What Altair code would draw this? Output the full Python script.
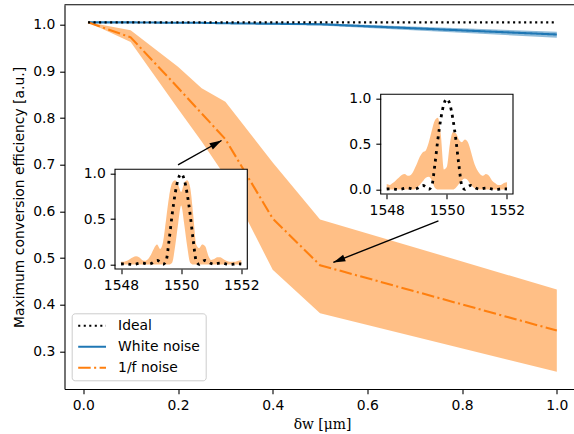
import math
import altair as alt
import pandas as pd

# ---------------- main panel data ----------------
dw = [0.01, 0.1, 0.2, 0.25, 0.3, 0.4, 0.5, 1.0]
ideal = [1.005, 1.005, 1.005, 1.005, 1.005, 1.005, 1.005, 1.005]
white_mean = [1.005, 1.005, 1.004, 1.004, 1.003, 1.002, 1.001, 0.979]
white_hi = [1.005, 1.005, 1.005, 1.005, 1.004, 1.004, 1.003, 0.985]
white_lo = [1.005, 1.004, 1.003, 1.003, 1.002, 1.000, 0.998, 0.972]
pink_mean = [1.005, 0.973, 0.865, 0.810, 0.755, 0.585, 0.485, 0.345]
pink_hi = [1.005, 0.988, 0.910, 0.864, 0.835, 0.705, 0.583, 0.433]
pink_lo = [1.005, 0.963, 0.820, 0.750, 0.675, 0.475, 0.382, 0.257]
series = ["Ideal", "White noise", "1/f noise"]
series_colors = ["black", "#1f77b4", "#ff7f0e"]

x_ticks = [0.0, 0.2, 0.4, 0.6, 0.8, 1.0]
y_ticks = [0.3, 0.4, 0.5, 0.6, 0.7, 0.8, 0.9, 1.0]

# annotation arrows (tail -> head), main data coordinates
arrow_x_tail = [0.200, 0.750]
arrow_y_tail = [0.700, 0.580]
arrow_x_head = [0.292, 0.528]
arrow_y_head = [0.752, 0.491]

# ---------------- inset data ----------------
lam = [1548.0, 1548.1, 1548.2, 1548.3, 1548.4, 1548.5, 1548.6, 1548.7, 1548.8, 1548.9,
       1549.0, 1549.1, 1549.2, 1549.3, 1549.4, 1549.5, 1549.6, 1549.7, 1549.8, 1549.9,
       1550.0, 1550.1, 1550.2, 1550.3, 1550.4, 1550.5, 1550.6, 1550.7, 1550.8, 1550.9,
       1551.0, 1551.1, 1551.2, 1551.3, 1551.4, 1551.5, 1551.6, 1551.7, 1551.8, 1551.9,
       1552.0]
spec_ideal = [0.005, 0.007, 0.006, 0.002, 0.000, 0.005, 0.012, 0.015, 0.010, 0.002,
              0.010, 0.030, 0.045, 0.030, 0.002, 0.040, 0.270, 0.550, 0.780, 0.940,
              1.000, 0.940, 0.780, 0.550, 0.270, 0.040, 0.002, 0.030, 0.045, 0.030,
              0.010, 0.002, 0.010, 0.015, 0.012, 0.005, 0.000, 0.002, 0.006, 0.007,
              0.005]
# inset 1 (dw = 0.3)
in1_hi = [0.03, 0.03, 0.04, 0.06, 0.08, 0.09, 0.08, 0.05, 0.04, 0.06,
          0.11, 0.18, 0.22, 0.17, 0.25, 0.50, 0.75, 0.90, 0.93, 0.88,
          0.80, 0.90, 0.93, 0.85, 0.55, 0.22, 0.18, 0.22, 0.20, 0.10,
          0.05, 0.06, 0.08, 0.08, 0.06, 0.04, 0.03, 0.03, 0.03, 0.04,
          0.05]
in1_lo = [0.0, 0.0, 0.0, 0.0, 0.0, 0.0, 0.0, 0.0, 0.0, 0.0,
          0.0, 0.0, 0.0, 0.0, 0.0, 0.0, 0.0, 0.02, 0.20, 0.45,
          0.65, 0.45, 0.20, 0.02, 0.0, 0.0, 0.0, 0.0, 0.0, 0.0,
          0.0, 0.0, 0.0, 0.0, 0.0, 0.0, 0.0, 0.0, 0.0, 0.0,
          0.0]
# inset 2 (dw = 0.5)
in2_hi = [0.06, 0.05, 0.07, 0.10, 0.13, 0.16, 0.17, 0.15, 0.16, 0.21,
          0.28, 0.36, 0.41, 0.43, 0.52, 0.65, 0.76, 0.79, 0.60, 0.22,
          0.25, 0.50, 0.63, 0.62, 0.55, 0.52, 0.55, 0.52, 0.42, 0.30,
          0.22, 0.17, 0.15, 0.17, 0.15, 0.10, 0.07, 0.05, 0.05, 0.07,
          0.08]
in2_lo = [0.0, 0.0, 0.0, 0.0, 0.0, 0.0, 0.0, 0.0, 0.0, 0.0,
          0.02, 0.05, 0.09, 0.13, 0.14, 0.10, 0.02, 0.0, 0.0, 0.0,
          0.0, 0.0, 0.0, 0.02, 0.06, 0.10, 0.12, 0.10, 0.05, 0.02,
          0.0, 0.0, 0.0, 0.0, 0.0, 0.0, 0.0, 0.0, 0.0, 0.0,
          0.0]
in_x_ticks = [1548, 1550, 1552]
in_y_ticks = [0.0, 0.5, 1.0]
in_x_dom = [1547.8, 1552.2]
in_y_dom = [-0.05, 1.05]

# ---------------- layout / style ----------------
W, H = 509.5, 384.3
PAD = {"left": 64.5, "top": 4.7, "right": 0, "bottom": 45}
XDOM = [-0.0397, 1.0363]
YDOM = [0.2199, 1.0428]
FONT = "DejaVu Sans"
FS = 13.9
LW = 2.08
INSET1 = {"x": [50.5, 182.8], "y": [264.3, 164.6]}
INSET2 = {"x": [316.2, 448.5], "y": [189.3, 89.6]}

xs = alt.Scale(domain=XDOM, nice=False, zero=False)
ys = alt.Scale(domain=YDOM, nice=False, zero=False)
x_axis = alt.Axis(values=x_ticks, format=".1f", title="δw [μm]", titleFont="DejaVu Serif",
                  titleX=257.5, titleY=35, titleBaseline="middle", labelPadding=5,
                  labelFlush=False, orient="bottom")
y_axis = alt.Axis(values=y_ticks, format=".1f", title="Maximum conversion efficiency [a.u.]",
                  titleX=-45, titleY=192.3, titleBaseline="middle", titleAngle=-90,
                  labelPadding=4.9, orient="left")

lines_rows = []
for name, vals in [("White noise", white_mean), ("1/f noise", pink_mean), ("Ideal", ideal)]:
    for xv, yv in zip(dw, vals):
        lines_rows.append({"dw": xv, "value": yv, "series": name})
lines_df = pd.DataFrame(lines_rows)
band_white = pd.DataFrame({"dw": dw, "lo": white_lo, "hi": white_hi})
band_pink = pd.DataFrame({"dw": dw, "lo": pink_lo, "hi": pink_hi})

X = alt.X("dw:Q", scale=xs, axis=x_axis)
Y_lo = alt.Y("lo:Q", scale=ys, axis=y_axis)

area_w = alt.Chart(band_white).mark_area(color="#1f77b4", opacity=0.5).encode(
    x=X, y=Y_lo, y2="hi:Q")
area_p = alt.Chart(band_pink).mark_area(color="#ff7f0e", opacity=0.5).encode(
    x=X, y=Y_lo, y2="hi:Q")

lines = alt.Chart(lines_df).mark_line(strokeWidth=LW).encode(
    x=X,
    y=alt.Y("value:Q", scale=ys, axis=y_axis),
    color=alt.Color("series:N", scale=alt.Scale(domain=series, range=series_colors),
                    legend=alt.Legend(title=None)),
    strokeDash=alt.StrokeDash("series:N",
                              scale=alt.Scale(domain=series,
                                              range=[[2.08, 3.44], [1, 0], [12.5, 3.4, 2.08, 3.4]]),
                              legend=alt.Legend(title=None)),
)

pxx = W / (XDOM[1] - XDOM[0])
pxy = H / (YDOM[1] - YDOM[0])
angles = []
for xt, yt, xh, yh in zip(arrow_x_tail, arrow_y_tail, arrow_x_head, arrow_y_head):
    a = math.degrees(math.atan2((xh - xt) * pxx, (yh - yt) * pxy))
    angles.append(a % 360)
arrows_df = pd.DataFrame({"xt": arrow_x_tail, "yt": arrow_y_tail,
                          "xh": arrow_x_head, "yh": arrow_y_head, "ang": angles})
shafts = alt.Chart(arrows_df).mark_rule(color="black", strokeWidth=1.4).encode(
    x=alt.X("xt:Q", scale=xs, axis=x_axis), y=alt.Y("yt:Q", scale=ys, axis=y_axis),
    x2="xh:Q", y2="yh:Q")
heads = alt.Chart(arrows_df).mark_point(
    shape="M0,0L-0.3,1L0.3,1Z", filled=True, size=576, color="black", opacity=1,
    strokeWidth=0).encode(
    x=alt.X("xh:Q", scale=xs, axis=x_axis), y=alt.Y("yh:Q", scale=ys, axis=y_axis),
    angle=alt.Angle("ang:Q", scale=None))

top_spine = alt.Chart(pd.DataFrame({"k": [0]})).mark_rule(
    color="black", strokeWidth=1.1).encode(
    x=alt.value(0), x2=alt.value(W), y=alt.value(0))

main = alt.layer(area_w, area_p, lines, shafts, heads, top_spine)


def make_inset(hi, lo, box):
    sx = alt.Scale(domain=in_x_dom, range=box["x"], nice=False, zero=False)
    sy = alt.Scale(domain=in_y_dom, range=box["y"], nice=False, zero=False)
    ax = alt.Axis(values=in_x_ticks, format="d", orient="bottom", offset=box["y"][0] - H,
                  title=None, domain=False, labelPadding=5, zindex=2, labelFlush=False)
    ay = alt.Axis(values=in_y_ticks, format=".1f", orient="left", offset=-box["x"][0],
                  title=None, domain=False, labelPadding=4.9, zindex=2)
    frame = pd.DataFrame({"x0": [in_x_dom[0]], "x1": [in_x_dom[1]],
                          "y0": [in_y_dom[0]], "y1": [in_y_dom[1]]})
    rect = alt.Chart(frame).mark_rect(fill="white", stroke="black", strokeWidth=1.1).encode(
        x=alt.X("x0:Q", scale=sx, axis=ax), x2="x1:Q",
        y=alt.Y("y0:Q", scale=sy, axis=ay), y2="y1:Q")
    df = pd.DataFrame({"lam": lam, "hi": hi, "lo": lo, "ideal": spec_ideal})
    band = alt.Chart(df).mark_area(color="#ff7f0e", opacity=0.5, interpolate="monotone").encode(
        x=alt.X("lam:Q", scale=sx, axis=ax),
        y=alt.Y("lo:Q", scale=sy, axis=ay), y2="hi:Q")
    ln = alt.Chart(df).mark_line(color="black", strokeWidth=2.8, strokeDash=[2.8, 4.6],
                                 interpolate="monotone").encode(
        x=alt.X("lam:Q", scale=sx, axis=ax),
        y=alt.Y("ideal:Q", scale=sy, axis=ay))
    return alt.layer(rect, band, ln)


inset1 = make_inset(in1_hi, in1_lo, INSET1)
inset2 = make_inset(in2_hi, in2_lo, INSET2)

chart = alt.layer(main, inset1, inset2).resolve_scale(
    x="independent", y="independent"
).properties(
    width=W, height=H, padding=PAD, autosize=alt.AutoSizeParams(type="none"),
    background="white"
).configure_view(strokeWidth=0).configure_axis(
    labelFont=FONT, labelFontSize=FS, labelColor="black",
    titleFont=FONT, titleFontSize=FS, titleFontWeight="normal", titleColor="black",
    tickColor="black", tickSize=4.86, tickWidth=1.1,
    domainColor="black", domainWidth=1.1, grid=False
).configure_axisBottom(titleFont="DejaVu Serif").configure_legend(
    orient="none", legendX=7.2, legendY=308.6, padding=5.4,
    strokeColor="#cccccc", fillColor="rgba(255,255,255,0.8)", cornerRadius=3,
    symbolType="stroke", symbolSize=773, symbolStrokeWidth=LW,
    labelFont=FONT, labelFontSize=FS, labelColor="black", labelOffset=11,
    clipHeight=14, rowPadding=7
)

chart.save("out.html", embed_options={"renderer": "svg", "actions": False})
